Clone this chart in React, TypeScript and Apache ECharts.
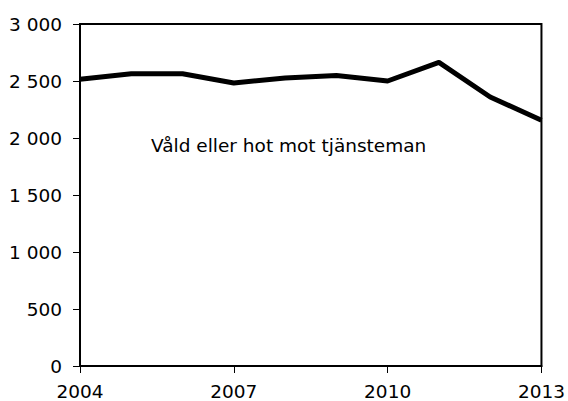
import React, { useEffect, useRef } from "react";
import * as echarts from "echarts";

const years = [2004, 2005, 2006, 2007, 2008, 2009, 2010, 2011, 2012, 2013];
const values = [2515, 2563, 2563, 2483, 2526, 2549, 2500, 2663, 2360, 2155];
const seriesName = "Våld eller hot mot tjänsteman";

const FONT = "'DejaVu Sans', sans-serif";
const FS = 18.5;

function fmt(v: number): string {
  const s = String(Math.round(v));
  return s.replace(/\B(?=(\d{3})+(?!\d))/g, " ");
}

export default function App() {
  const ref = useRef<HTMLDivElement>(null);
  useEffect(() => {
    if (!ref.current) return;
    const chart = echarts.init(ref.current, null, { renderer: "svg" });
    chart.setOption({
      animation: false,
      backgroundColor: "#fff",
      grid: {
        left: 80,
        right: 26,
        top: 24,
        bottom: 33,
        show: true,
        borderColor: "#000",
        borderWidth: 2,
        backgroundColor: "transparent",
      },
      xAxis: {
        type: "value",
        min: 2004,
        max: 2013,
        interval: 3,
        axisLine: { show: true, lineStyle: { color: "#000", width: 2 } },
        axisTick: { show: true, inside: false, length: 7, lineStyle: { color: "#000", width: 1 } },
        axisLabel: {
          color: "#000",
          fontSize: FS,
          fontFamily: FONT,
          margin: 16,
          formatter: (v: number) => String(v),
        },
        splitLine: { show: false },
      },
      yAxis: {
        type: "value",
        min: 0,
        max: 3000,
        interval: 500,
        axisLine: { show: true, lineStyle: { color: "#000", width: 2 } },
        axisTick: { show: true, inside: false, length: 7, lineStyle: { color: "#000", width: 1 } },
        axisLabel: {
          color: "#000",
          fontSize: FS,
          fontFamily: FONT,
          margin: 18,
          formatter: (v: number) => fmt(v),
        },
        splitLine: { show: false },
      },
      graphic: [
        {
          type: "text",
          left: 151,
          top: 136,
          style: {
            text: seriesName,
            fill: "#000",
            fontSize: FS,
            fontFamily: FONT,
          },
        },
      ],
      series: [
        {
          name: seriesName,
          type: "line",
          data: years.map((y, i) => [y, values[i]]),
          showSymbol: false,
          lineStyle: { color: "#000", width: 5, join: "round" },
          itemStyle: { color: "#000" },
        },
      ],
    });
    return () => chart.dispose();
  }, []);
  return (
    <div
      ref={ref}
      style={{ position: "fixed", left: 0, top: 0, width: 568, height: 401 }}
    />
  );
}
